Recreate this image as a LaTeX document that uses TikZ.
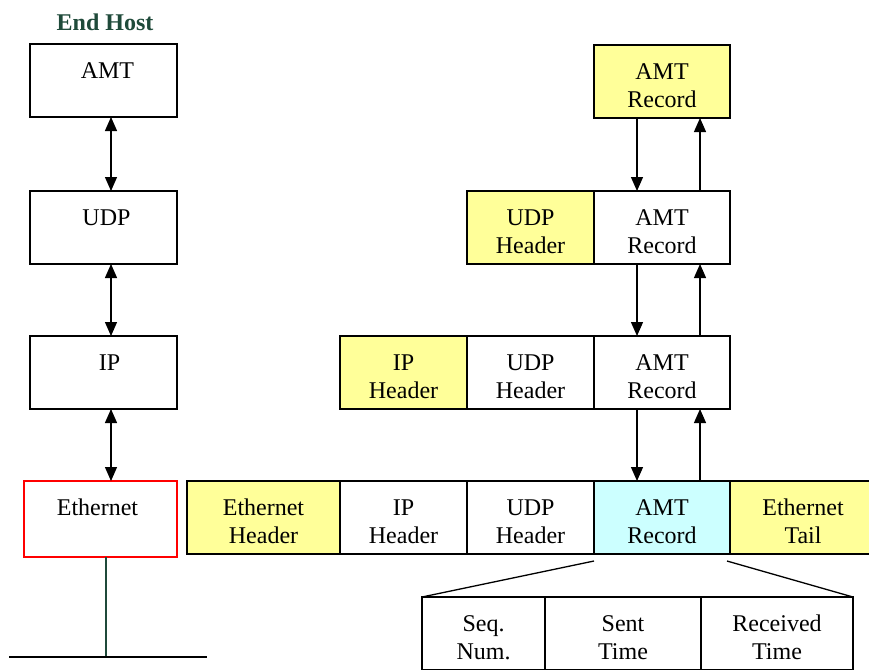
\documentclass[tikz,border=0pt]{standalone}
\usepackage{fontspec}
\setmainfont{Liberation Serif}
\usetikzlibrary{arrows.meta}
\definecolor{hdrc}{HTML}{FFFF99}
\definecolor{recc}{HTML}{CCFFFF}
\definecolor{titlec}{HTML}{1F4A3A}
\begin{document}
\begin{tikzpicture}[x=1pt,y=-1pt,
  box/.style={draw, line width=1.3pt, inner sep=0pt, outer sep=0pt, anchor=north west,
    minimum height=73pt},
  hdr/.style={box, fill=hdrc},
  rec/.style={box, fill=recc},
  txt/.style={inner sep=0pt, align=center, font=\fontsize{24}{28}\selectfont},
  link/.style={line width=1.3pt, -{Triangle[length=14pt,width=12pt]}},
  dlink/.style={line width=1.3pt, {Triangle[length=14pt,width=12pt]}-{Triangle[length=14pt,width=12pt]}},
  wire/.style={line width=1.3pt}
]
\useasboundingbox (0,0) rectangle (869,669);
\clip (0,0) rectangle (869,669);

% end host stack
\node[font=\bfseries\fontsize{24}{28}\selectfont, text=titlec] (title) at (105,22) {End Host};
\node[box, minimum width=147pt] (hamt) at (30,44) {};
\node[box, minimum width=147pt] (hudp) at (30,191) {};
\node[box, minimum width=147pt] (hip) at (30,336) {};
\node[box, draw=red, minimum width=153pt, minimum height=76pt] (heth) at (24,481) {};
\node[txt] (hamtt) at ([yshift=-4pt,xshift=4pt]hamt.center) {AMT\\\mbox{}};
\node[txt] (hudpt) at ([yshift=-4pt,xshift=3pt]hudp.center) {UDP\\\mbox{}};
\node[txt] (hipt) at ([yshift=-4pt,xshift=6pt]hip.center) {IP\\\mbox{}};
\node[txt] (hetht) at ([yshift=-2pt,xshift=-3pt]heth.center) {Ethernet\\\mbox{}};

\draw[dlink] ([xshift=7.5pt]hamt.south) -- ([xshift=7.5pt]hudp.north);
\draw[dlink] ([xshift=7.5pt]hudp.south) -- ([xshift=7.5pt]hip.north);
\draw[dlink] ([xshift=7.5pt]hip.south) -- ([xshift=10.5pt]heth.north);

\coordinate (gnd) at (106,657);
\coordinate (gl) at (9,657);
\coordinate (gr) at (207,657);
\draw[wire, draw=titlec] ([xshift=5.5pt]heth.south) -- (gnd);
\draw[wire] (gl) -- (gr);

% encapsulation
\node[hdr, minimum width=136pt] (a1) at (594,45) {};

\node[hdr, minimum width=127pt] (u2) at (467,191) {};
\node[box, minimum width=136pt] (a2) at (594,191) {};

\node[hdr, minimum width=127pt] (i3) at (340,336) {};
\node[box, minimum width=127pt] (u3) at (467,336) {};
\node[box, minimum width=136pt] (a3) at (594,336) {};

\node[hdr, minimum width=153pt] (e4) at (187,481) {};
\node[box, minimum width=127pt] (i4) at (340,481) {};
\node[box, minimum width=127pt] (u4) at (467,481) {};
\node[rec, minimum width=136pt] (a4) at (594,481) {};
\node[hdr, minimum width=144pt] (t4) at (730,481) {};

\node[txt] (a1t) at ([yshift=-4pt]a1.center) {AMT\\Record};
\node[txt] (u2t) at ([yshift=-4pt]u2.center) {UDP\\Header};
\node[txt] (a2t) at ([yshift=-4pt]a2.center) {AMT\\Record};
\node[txt] (i3t) at ([yshift=-4pt]i3.center) {IP\\Header};
\node[txt] (u3t) at ([yshift=-4pt]u3.center) {UDP\\Header};
\node[txt] (a3t) at ([yshift=-4pt]a3.center) {AMT\\Record};
\node[txt] (e4t) at ([yshift=-4pt]e4.center) {Ethernet\\Header};
\node[txt] (i4t) at ([yshift=-4pt]i4.center) {IP\\Header};
\node[txt] (u4t) at ([yshift=-4pt]u4.center) {UDP\\Header};
\node[txt] (a4t) at ([yshift=-4pt]a4.center) {AMT\\Record};
\node[txt] (t4t) at ([yshift=-4pt,xshift=1pt]t4.center) {Ethernet\\Tail};

\draw[link] ([xshift=-25pt]a1.south) -- ([xshift=-25pt]a2.north);
\draw[link] ([xshift=38pt]a2.north) -- ([xshift=38pt]a1.south);
\draw[link] ([xshift=-25pt]a2.south) -- ([xshift=-25pt]a3.north);
\draw[link] ([xshift=38pt]a3.north) -- ([xshift=38pt]a2.south);
\draw[link] ([xshift=-25pt]a3.south) -- ([xshift=-25pt]a4.north);
\draw[link] ([xshift=38pt]a4.north) -- ([xshift=38pt]a3.south);

% record fields
\node[box, minimum width=123pt] (sq) at (422,597) {};
\node[box, minimum width=156pt] (st) at (545,597) {};
\node[box, minimum width=152pt] (rt) at (701,597) {};
\node[txt] (sqt) at ([yshift=-4pt]sq.center) {Seq.\\Num.};
\node[txt] (stt) at ([yshift=-4pt]st.center) {Sent\\Time};
\node[txt] (rtt) at ([yshift=-4pt]rt.center) {Received\\Time};

\draw[wire] ([yshift=-7pt]a4.south west) -- (sq.north west);
\draw[wire] ([yshift=-7pt,xshift=-3pt]a4.south east) -- (rt.north east);
\end{tikzpicture}
\end{document}
